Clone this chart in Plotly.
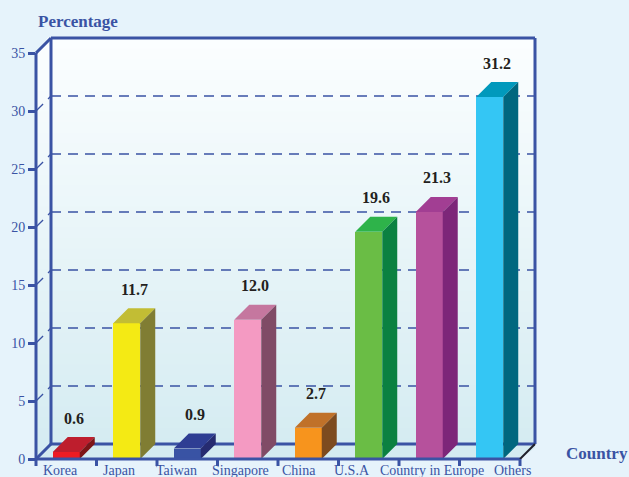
import plotly.graph_objects as go

# ---- data ----
countries = ["Korea", "Japan", "Taiwan", "Singapore", "China", "U.S.A",
             "Country in Europe", "Others"]
values = [0.6, 11.7, 0.9, 12.0, 2.7, 19.6, 21.3, 31.2]
y_ticks = [0, 5, 10, 15, 20, 25, 30, 35]

front_colors = ["#ed1c24", "#f4ea14", "#3953a4", "#f49ac2",
                "#f7941d", "#6abd45", "#b6519c", "#34c6f4"]
top_colors = ["#be1e2d", "#c2bd34", "#2e3d93", "#c5779f",
              "#c07129", "#2eb34a", "#a23e93", "#0199bc"]
side_colors = ["#7d1517", "#807d33", "#262b70", "#804b66",
               "#7d4b1f", "#0b8141", "#7d2679", "#00677f"]

# horizontal nudges (px) of the category captions under the axis
label_nudge = [-6, -8, -11, -7, -9, -17, 3, 23]

# ---- geometry of the pseudo-3D box ----
W, H = 629, 477
L, R, T, B = 36, 94, 38, 18
plot_w = W - L - R
plot_h = H - T - B
n = len(countries)
YMAX = 35
px_per_cat = 60.5
px_per_val = 11.6
DX = 15 / px_per_cat          # depth in category units
DY = 15 / px_per_val          # depth in value units
XMIN, XMAX = -0.5, n - 0.5 + DX
YTOP = YMAX + DY
BAR_W = 0.446

BLUE = "#3a53a4"
PAGE = "#e6f3fb"
SERIF = "Liberation Serif, Times New Roman, serif"


def px(xv):
    return (xv - XMIN) / (XMAX - XMIN)


def py(v):
    return v / YTOP


dxp = px(XMIN + DX)
dyp = py(DY)
front_right = px(n - 0.5)

shapes = []

# back wall gradient (white at top to pale cyan at bottom)
steps = 40
c_top = (252, 254, 255)
c_bot = (211, 235, 241)
for k in range(steps):
    t = (k + 0.5) / steps
    col = tuple(round(c_bot[j] + (c_top[j] - c_bot[j]) * t) for j in range(3))
    shapes.append(dict(type="rect", xref="paper", yref="paper",
                       x0=0, x1=1, y0=k / steps, y1=(k + 1) / steps + 0.002,
                       fillcolor="rgb(%d,%d,%d)" % col, line_width=0, layer="below"))

# page colour outside the box corners
shapes.append(dict(type="path", xref="paper", yref="paper", layer="below",
                   path=f"M 0 {py(YMAX)} L 0 1.01 L {dxp} 1.01 Z",
                   fillcolor=PAGE, line_width=0))
shapes.append(dict(type="path", xref="paper", yref="paper", layer="below",
                   path=f"M {front_right} 0 L 1.01 0 L 1.01 {dyp} Z",
                   fillcolor=PAGE, line_width=0))
# floor
shapes.append(dict(type="path", xref="paper", yref="paper", layer="below",
                   path=f"M 0 0 L {dxp} {dyp} L 1 {dyp} L {front_right} 0 Z",
                   fillcolor="#d3ebf1", line_width=0))

# dashed grid lines on the back wall and their depth guides on the left wall
for v in y_ticks[1:-1]:
    shapes.append(dict(type="line", xref="paper", yref="paper", layer="below",
                       x0=0, y0=py(v), x1=dxp, y1=py(v + DY),
                       line=dict(color=BLUE, width=1.3, dash="10px,7px")))
    shapes.append(dict(type="line", xref="paper", yref="paper", layer="below",
                       x0=dxp, y0=py(v + DY), x1=1, y1=py(v + DY),
                       line=dict(color=BLUE, width=1.3, dash="10px,7px")))

frame = dict(color=BLUE, width=3)
# back wall outline
shapes.append(dict(type="line", xref="paper", yref="paper", layer="below",
                   x0=dxp, y0=dyp, x1=dxp, y1=1, line=frame))
shapes.append(dict(type="line", xref="paper", yref="paper", layer="below",
                   x0=dxp, y0=1, x1=1, y1=1, line=frame))
shapes.append(dict(type="line", xref="paper", yref="paper", layer="below",
                   x0=1, y0=1, x1=1, y1=dyp, line=frame))
shapes.append(dict(type="line", xref="paper", yref="paper", layer="below",
                   x0=dxp, y0=dyp, x1=1, y1=dyp, line=frame))
shapes.append(dict(type="line", xref="paper", yref="paper", layer="below",
                   x0=0, y0=0, x1=dxp, y1=dyp, line=frame))
shapes.append(dict(type="line", xref="paper", yref="paper", layer="below",
                   x0=0, y0=py(YMAX), x1=dxp, y1=1, line=frame))

# 3D faces of the bars
for i, v in enumerate(values):
    x0 = i - BAR_W / 2
    x1 = i + BAR_W / 2
    shapes.append(dict(type="path", xref="x", yref="y", layer="above",
                       path=f"M {x0} {v} L {x0 + DX} {v + DY} L {x1 + DX} {v + DY} L {x1} {v} Z",
                       fillcolor=top_colors[i], line_width=0))
    shapes.append(dict(type="path", xref="x", yref="y", layer="above",
                       path=f"M {x1} 0 L {x1 + DX} {DY} L {x1 + DX} {v + DY} L {x1} {v} Z",
                       fillcolor=side_colors[i], line_width=0))

# front axis lines
shapes.append(dict(type="line", xref="paper", yref="paper", layer="above",
                   x0=0, y0=0, x1=0, y1=py(YMAX), line=frame))
shapes.append(dict(type="line", xref="paper", yref="paper", layer="above",
                   x0=-0.002, y0=0, x1=front_right, y1=0, line=frame))
shapes.append(dict(type="line", xref="paper", yref="paper", layer="above",
                   x0=front_right, y0=0, x1=1, y1=dyp,
                   line=dict(color="#1f1f2a", width=2)))
# category boundary ticks
for b in range(n + 1):
    xb = px(b - 0.5)
    shapes.append(dict(type="line", xref="paper", yref="paper", layer="above",
                       x0=xb, y0=0, x1=xb, y1=-7 / plot_h, line=frame))

fig = go.Figure()
fig.add_trace(go.Bar(
    x=list(range(n)), y=values, width=BAR_W,
    marker=dict(color=front_colors, line_width=0),
    hoverinfo="skip", showlegend=False,
))

annotations = []
for i, v in enumerate(values):
    annotations.append(dict(
        x=i + DX / 2, y=v + DY, xref="x", yref="y",
        text=f"<b>{v:.1f}</b>", showarrow=False, yshift=19,
        font=dict(family=SERIF, size=16, color="#231f20"),
    ))
# category captions under the front axis
for i, name in enumerate(countries):
    annotations.append(dict(
        x=i, y=0, xref="x", yref="paper", yanchor="top",
        xshift=label_nudge[i], yshift=-2,
        text=name, showarrow=False,
        font=dict(family=SERIF, size=14, color=BLUE),
    ))
annotations.append(dict(
    x=0, y=(plot_h + 17) / plot_h, xref="paper", yref="paper",
    xanchor="left", yanchor="middle", text="<b>Percentage</b>", showarrow=False,
    font=dict(family=SERIF, size=17, color=BLUE),
))
annotations.append(dict(
    x=(564 - L) / plot_w, y=6 / plot_h, xref="paper", yref="paper",
    xanchor="left", yanchor="middle", text="<b>Country</b>", showarrow=False,
    font=dict(family=SERIF, size=17, color=BLUE),
))

fig.update_layout(
    width=W, height=H,
    margin=dict(l=L, r=R, t=T, b=B),
    paper_bgcolor=PAGE, plot_bgcolor=PAGE,
    bargap=0,
    shapes=shapes,
    annotations=annotations,
    xaxis=dict(range=[XMIN, XMAX], showticklabels=False,
               ticks="", showline=False, showgrid=False, zeroline=False,
               automargin=False, fixedrange=True),
    yaxis=dict(range=[0, YTOP], tickvals=y_ticks, ticks="outside", ticklen=7,
               tickwidth=3, tickcolor=BLUE, showline=False, showgrid=False,
               zeroline=False, automargin=False,
               tickfont=dict(family=SERIF, size=14, color=BLUE),
               fixedrange=True),
)

fig.write_html("out.html")
